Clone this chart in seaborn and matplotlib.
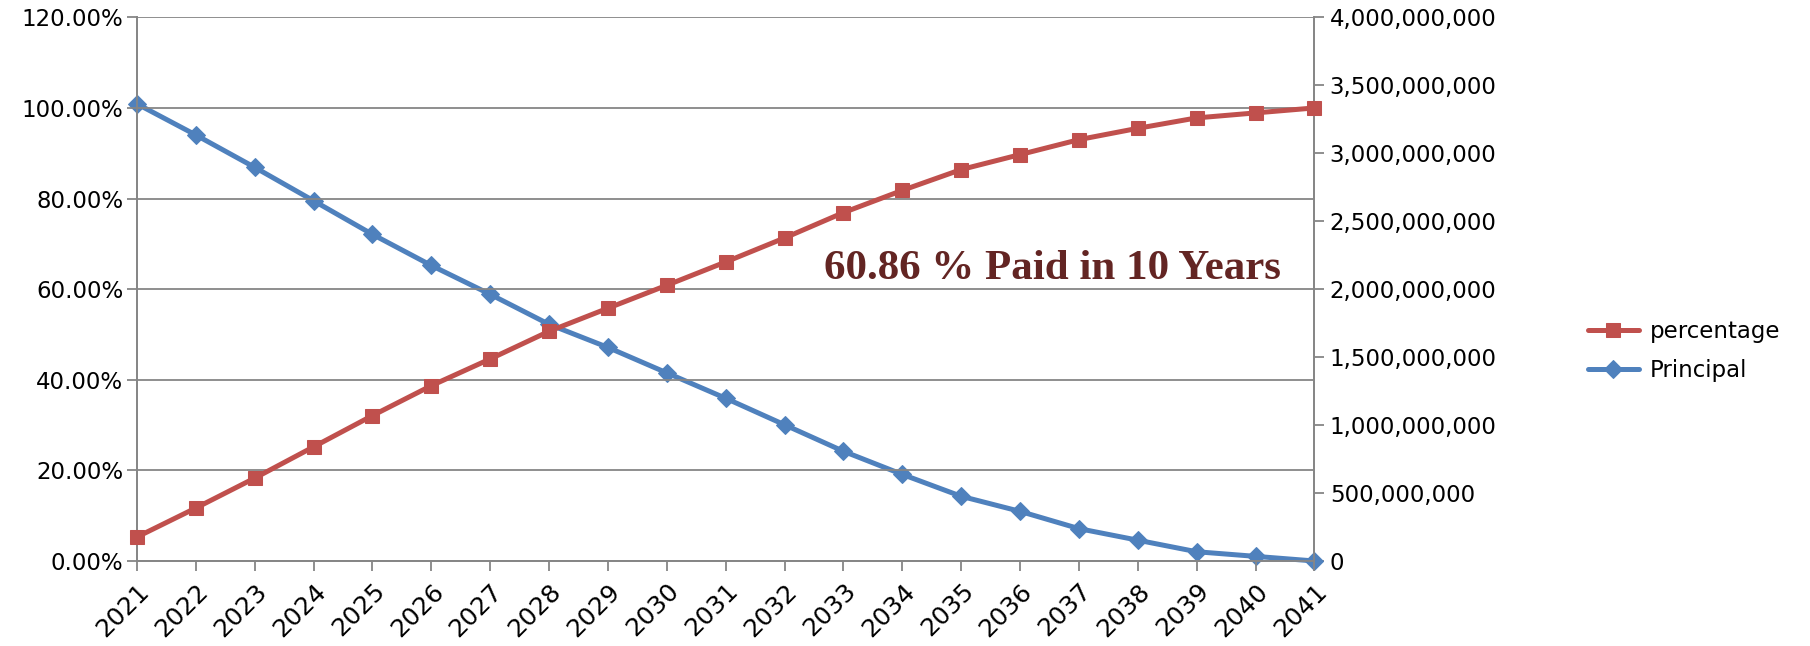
import numpy as np
import pandas as pd
import matplotlib
matplotlib.use("Agg")
import matplotlib.pyplot as plt
import matplotlib.ticker as mticker
import seaborn as sns

# ------------------------------------------------------------
# Loan repayment: share paid vs. remaining principal, 2021-2041
# ------------------------------------------------------------

years = list(range(2021, 2042))

percentage = [5.3, 11.7, 18.3, 25.2, 32.1, 38.7, 44.6, 50.7, 55.8, 60.86,
              66.0, 71.3, 76.9, 81.8, 86.4, 89.7, 93.0, 95.5, 97.8, 98.9, 100.0]

principal = [3.363e9, 3.134e9, 2.896e9, 2.650e9, 2.403e9, 2.174e9, 1.962e9,
             1.741e9, 1.571e9, 1.384e9, 1.197e9, 1.002e9, 0.807e9, 0.637e9,
             0.476e9, 0.365e9, 0.238e9, 0.153e9, 0.068e9, 0.034e9, 0.0]

annotation = "60.86 % Paid in 10 Years"

RED = "#C0504D"
BLUE = "#4F81BD"
GRID = "#868686"

df = pd.DataFrame({"year": years, "percentage": percentage, "principal": principal})

sns.set_style("white")
plt.rcParams["font.family"] = ["DejaVu Sans"]
plt.rcParams["text.color"] = "black"
plt.rcParams["xtick.color"] = "black"
plt.rcParams["ytick.color"] = "black"

fig = plt.figure(figsize=(18.10, 6.46), dpi=100)
ax = fig.add_axes([0.0757, 0.1316, 0.6505, 0.8416])
ax2 = ax.twinx()

sns.lineplot(data=df, x="year", y="principal", ax=ax2, color=BLUE, lw=3.6,
             marker="D", markersize=9, markeredgecolor=BLUE, clip_on=False,
             label="Principal", legend=False, zorder=3)
sns.lineplot(data=df, x="year", y="percentage", ax=ax, color=RED, lw=3.6,
             marker="s", markersize=10, markeredgecolor=RED, clip_on=False,
             label="percentage", legend=False, zorder=3)

# put percentage axis on top so the red line draws over the blue one
ax.set_zorder(ax2.get_zorder() + 1)
ax.patch.set_visible(False)

ax.set_xlim(2021, 2041)
ax.set_ylim(0, 120)
ax2.set_ylim(0, 4e9)

ax.set_xticks(years)
ax.set_xticklabels([str(y) for y in years], rotation=45, ha="right",
                   rotation_mode="anchor", fontsize=18)
ax.set_yticks(np.arange(0, 121, 20))
ax.yaxis.set_major_formatter(mticker.FuncFormatter(lambda v, p: f"{v:.2f}%"))
ax2.set_yticks(np.arange(0, 4.01e9, 5e8))
ax2.yaxis.set_major_formatter(mticker.FuncFormatter(lambda v, p: f"{v:,.0f}"))

ax.set_xlabel("")
ax.set_ylabel("")
ax2.set_ylabel("")

ax.grid(axis="y", color=GRID, lw=1.3)
ax.grid(axis="x", visible=False)
ax2.grid(False)

for a in (ax, ax2):
    for s in a.spines.values():
        s.set_color(GRID)
        s.set_linewidth(1.3)
ax.spines["top"].set_visible(False)
ax2.spines["top"].set_visible(False)

ax.tick_params(axis="x", direction="out", length=7, width=1.3, color=GRID,
               labelcolor="black", pad=6, bottom=True)
ax.tick_params(axis="y", direction="out", length=7, width=1.3, color=GRID,
               labelcolor="black", labelsize=16.5, pad=3, left=True)
ax2.tick_params(axis="y", direction="out", length=7, width=1.3, color=GRID,
                labelcolor="black", labelsize=16.5, pad=4, right=True)

ax.text(19.43 + 2021, 64.5, annotation, ha="right", va="center",
        fontsize=31, fontweight="bold", color="#632523",
        family=["Liberation Serif", "DejaVu Serif"])

h1, l1 = ax.get_legend_handles_labels()
h2, l2 = ax2.get_legend_handles_labels()
fig.legend(h1 + h2, l1 + l2, loc="center left", bbox_to_anchor=(0.866, 0.457),
           frameon=False, fontsize=16.5, handlelength=2.2, handletextpad=0.5,
           labelspacing=0.7)

fig.savefig("out.png", dpi=100)
